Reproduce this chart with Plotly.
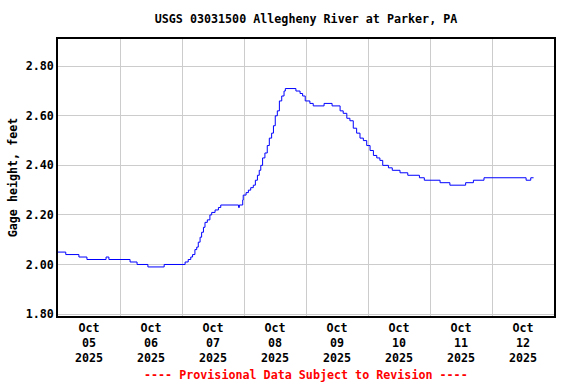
import plotly.graph_objects as go
import pandas as pd

# Breakpoints of the gage-height record (hours after 2025-10-05 00:00, feet)
hours = [0.0, 3.0, 8.1, 11.2, 18.6, 19.7, 27.9, 30.6, 34.8, 41.1,
         49.2, 50.4, 51.4, 52.1, 53.0, 53.7, 54.3, 55.0, 55.6, 56.3,
         56.9, 57.8, 58.8, 59.5, 60.8, 62.1, 63.0, 69.9, 70.2, 71.5,
         71.7, 72.8, 73.7, 74.6, 75.6, 76.4, 77.2, 77.9, 78.5, 79.2,
         80.1, 81.0, 81.8, 82.7, 83.4, 84.1, 84.9, 85.7, 86.6, 87.5,
         88.0, 92.1, 93.7, 94.7, 95.7, 97.5, 98.8, 103.0, 106.1, 109.2,
         110.4, 111.8, 113.0, 114.3, 115.6, 116.9, 118.2, 119.5, 120.8, 122.1,
         123.4, 124.6, 125.7, 127.9, 129.4, 132.4, 135.4, 139.9, 141.8, 147.9,
         151.7, 157.8, 160.8, 164.9, 181.2, 183.0, 184.1]
gage = [2.05, 2.04, 2.03, 2.02, 2.03, 2.02, 2.01, 2.00, 1.99, 2.00,
        2.01, 2.02, 2.03, 2.04, 2.06, 2.07, 2.09, 2.11, 2.13, 2.15,
        2.17, 2.18, 2.20, 2.21, 2.22, 2.23, 2.24, 2.23, 2.24, 2.26,
        2.28, 2.29, 2.30, 2.31, 2.32, 2.34, 2.36, 2.38, 2.40, 2.43,
        2.45, 2.48, 2.51, 2.53, 2.56, 2.60, 2.62, 2.66, 2.68, 2.70,
        2.71, 2.70, 2.69, 2.68, 2.66, 2.65, 2.64, 2.65, 2.64, 2.62,
        2.61, 2.59, 2.58, 2.55, 2.53, 2.51, 2.50, 2.48, 2.46, 2.44,
        2.43, 2.42, 2.40, 2.39, 2.38, 2.37, 2.36, 2.35, 2.34, 2.33,
        2.32, 2.33, 2.34, 2.35, 2.34, 2.35, 2.35]

start = pd.Timestamp("2025-10-05 00:00")
times = [start + pd.Timedelta(hours=h) for h in hours]

day_labels = ["Oct<br>05<br>2025", "Oct<br>06<br>2025", "Oct<br>07<br>2025",
              "Oct<br>08<br>2025", "Oct<br>09<br>2025", "Oct<br>10<br>2025",
              "Oct<br>11<br>2025", "Oct<br>12<br>2025"]
label_pos = [start + pd.Timedelta(hours=12 + 24 * i) for i in range(len(day_labels))]

y_ticks = [1.80, 2.00, 2.20, 2.40, 2.60, 2.80]

FONT = "DejaVu Sans Mono"
FS = 11.7

fig = go.Figure()
fig.add_trace(go.Scatter(x=times, y=gage, mode="lines", line_shape="hv",
                         line=dict(color="#0000ff", width=1), showlegend=False,
                         hoverinfo="skip"))

fig.update_layout(
    width=576, height=384,
    margin=dict(l=58, r=22, t=39, b=68),
    paper_bgcolor="white", plot_bgcolor="white",
    font=dict(family=FONT, size=FS, color="black", weight="bold"),
    title=dict(text="USGS 03031500 Allegheny River at Parker, PA",
               x=0.5, xref="paper", xanchor="center",
               y=1 - 19 / 384, yref="container", yanchor="middle",
               font=dict(family=FONT, size=FS, color="black", weight="bold")),
    xaxis=dict(
        range=[start, start + pd.Timedelta(days=8)],
        tickmode="array", tickvals=label_pos, ticktext=day_labels,
        showgrid=False, ticks="", zeroline=False,
        showline=True, linecolor="black", linewidth=1.5, mirror=True,
        minor=dict(tick0=start, dtick=86400000, showgrid=True,
                   gridcolor="#cccccc", gridwidth=1, ticks=""),
    ),
    yaxis=dict(
        range=[1.792, 2.91],
        tickmode="array", tickvals=y_ticks,
        ticktext=[f"{v:.2f}" for v in y_ticks],
        showgrid=True, gridcolor="#cccccc", gridwidth=1, ticks="",
        zeroline=False,
        showline=True, linecolor="black", linewidth=1.5, mirror=True,
        title=dict(text="Gage height, feet", standoff=6,
                   font=dict(family=FONT, size=FS, color="black", weight="bold")),
    ),
    annotations=[dict(text="---- Provisional Data Subject to Revision ----",
                      x=0.5, xref="paper", xanchor="center",
                      y=0, yref="paper", yanchor="middle", yshift=-(375 - 316),
                      showarrow=False,
                      font=dict(family=FONT, size=FS, color="red", weight="bold"))],
)

fig.write_html("out.html", config={"displayModeBar": False},
               post_script="document.body.style.margin='0';")
